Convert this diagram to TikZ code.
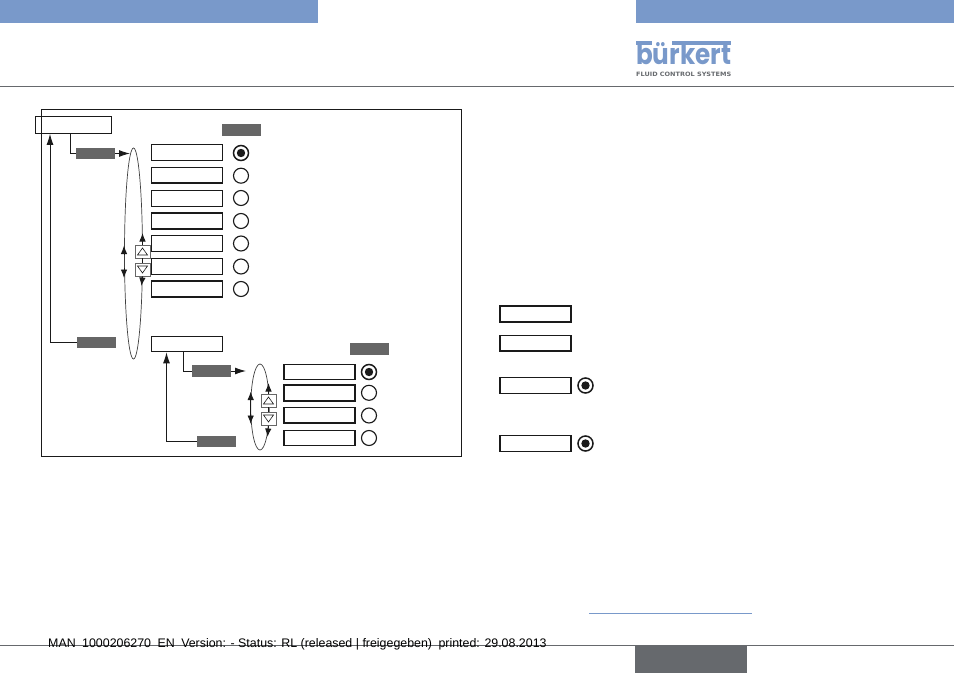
\documentclass[tikz,border=0pt]{standalone}
\usepackage{fontspec}
\setmainfont{Liberation Sans}
\newfontfamily\logofont{Poppins}
\newfontfamily\tagfont{DejaVu Sans}
\usetikzlibrary{shapes.geometric,arrows.meta}
\definecolor{brandblue}{HTML}{7999CA}
\definecolor{darklabel}{HTML}{666666}
\definecolor{rulegray}{HTML}{66696D}
\definecolor{inkblack}{HTML}{1A1A1A}
\tikzset{
  x=1pt,y=-1pt,
  lcd/.style={draw=inkblack,line width=1.25pt,minimum width=71pt,minimum height=15.5pt,inner sep=0pt},
  lcdthick/.style={lcd,line width=1.7pt},
  darktag/.style={fill=darklabel,minimum width=39pt,minimum height=11.5pt,inner sep=0pt},
  radio/.style={circle,draw=inkblack,line width=1.15pt,minimum size=15pt,inner sep=0pt},
  radioon/.style={radio,line width=1.5pt,path picture={\fill[inkblack] (path picture bounding box.center) circle (4.2pt);}},
  wire/.style={draw=inkblack,line width=0.9pt},
  arrowwire/.style={wire,-{Latex[length=11pt,width=7pt]}},
  tiponly/.style={wire,-{Latex[length=8.5pt,width=6.5pt]}},
  loopring/.style={ellipse,draw=black!75,line width=0.7pt,inner sep=0pt},
  keybox/.style={draw=black!60,fill=white,line width=0.9pt,minimum width=15pt,minimum height=13pt,inner sep=0pt},
  keytri/.style={draw=inkblack,line width=0.6pt},
}
\begin{document}
\begin{tikzpicture}
\useasboundingbox (0,0) rectangle (954,673);
% header and footer
\fill[brandblue] (0,0) rectangle (318,23);
\fill[brandblue] (636,0) rectangle (954,23);
\draw[rulegray,line width=0.9pt] (0,86.5) -- (954,86.5);
\draw[rulegray,line width=0.9pt] (0,645) -- (954,645);
\fill[rulegray] (635,645) rectangle (747,673);
\draw[brandblue,line width=0.8pt] (589,613.5) -- (752,613.5);
\node[anchor=base west,inner sep=0pt,font=\fontsize{12.4pt}{13pt}\selectfont] (foot) at (48,647) {MAN\hspace{3pt} 1000206270\hspace{3pt} EN\hspace{3pt} Version: - Status: RL (released | freigegeben)\hspace{3pt} printed: 29.08.2013};
% logo
\fill[brandblue] (636,41) rectangle (652,44.5);
\fill[brandblue] (672,41) rectangle (731,44.5);
\node[anchor=south west,inner sep=0pt,text=brandblue] (logo) at (636,65) {\resizebox{95pt}{22pt}{\logofont\bfseries bürkert}};
\node[anchor=south west,inner sep=0pt,text=rulegray] (logotag) at (636,76.5) {\resizebox{95pt}{4.4pt}{\tagfont\bfseries FLUID CONTROL SYSTEMS}};
% frame
\draw[inkblack,line width=0.9pt] (41.5,109.5) rectangle (461,456);
% top box
\node[lcd,minimum width=75.5pt,minimum height=16.5pt] (top) at (73.5,125) {};
\node[darktag] (tagA) at (241.5,130) {};
\node[darktag] (tagB) at (95.5,153.5) {};
% first column
\node[lcd] (a1) at (187,152.5) {};
\node[lcd] (a2) at (187,175.2) {};
\node[lcd] (a3) at (187,198.4) {};
\node[lcdthick] (a4) at (187,221) {};
\node[lcd] (a5) at (187,243.5) {};
\node[lcd] (a6) at (187,266.5) {};
\node[lcdthick] (a7) at (187,289) {};
\node[radioon] (ra1) at (241,153) {};
\node[radio] (ra2) at (241,175.7) {};
\node[radio] (ra3) at (241,198) {};
\node[radio] (ra4) at (241,221) {};
\node[radio] (ra5) at (241,243.5) {};
\node[radio] (ra6) at (241,266.5) {};
\node[radio] (ra7) at (241,289) {};
% first selector
\node[loopring,minimum width=18pt,minimum height=211pt] (ringA) at (133.5,253.5) {};
\node[keybox] (upA) at (142.5,251.5) {};
\node[keybox] (dnA) at (142.5,269.5) {};
\draw[keytri] (137.5,255) -- (147.5,255) -- (142.5,248) -- cycle;
\draw[keytri] (137.5,266) -- (147.5,266) -- (142.5,273) -- cycle;
\draw[wire] (upA) -- (dnA);
\coordinate (upAt) at (142.5,233);
\coordinate (dnAt) at (141.5,286);
\draw[tiponly] (upA.north) -- (upAt);
\draw[tiponly] (dnA.south) -- (dnAt);
\draw[tiponly] (124,254) -- (124,245.5);
\draw[tiponly] (124,268) -- (124,278);
\coordinate (ringAin) at (130,153.5);
\draw[wire] ([xshift=-3.5pt]top.south) |- (tagB.west);
\draw[arrowwire] (tagB.east) -- (ringAin);
% return to top
\node[darktag] (tagC) at (96.5,342.5) {};
\node[lcd] (sub) at (187,344) {};
\draw[arrowwire] (tagC.west) -| (top.south -| 50,0);
% second column
\node[darktag] (tagD) at (369.5,348.8) {};
\node[darktag] (tagE) at (211.5,371) {};
\node[darktag,minimum height=11pt] (tagF) at (216.5,441.3) {};
\node[lcd] (b1) at (319.5,372) {};
\node[lcdthick] (b2) at (319.5,393) {};
\node[lcdthick] (b3) at (319.5,415.3) {};
\node[lcd] (b4) at (319.5,438) {};
\node[radioon] (rb1) at (369,372) {};
\node[radio] (rb2) at (369,392.8) {};
\node[radio] (rb3) at (369,415.5) {};
\node[radio] (rb4) at (369,438) {};
% second selector
\node[loopring,minimum width=18.5pt,minimum height=86pt] (ringB) at (260,407) {};
\node[keybox] (upB) at (268.5,400.5) {};
\node[keybox] (dnB) at (268.5,418.8) {};
\draw[keytri] (263.5,404) -- (273.5,404) -- (268.5,397) -- cycle;
\draw[keytri] (263.5,415) -- (273.5,415) -- (268.5,422) -- cycle;
\draw[wire] (upB) -- (dnB);
\coordinate (upBt) at (268.5,383);
\coordinate (dnBt) at (267.5,437);
\draw[tiponly] (upB.north) -- (upBt);
\draw[tiponly] (dnB.south) -- (dnBt);
\draw[tiponly] (250.7,407) -- (250.7,391.5);
\draw[tiponly] (250.7,407) -- (250.7,424);
\coordinate (ringBin) at (246,371);
\draw[wire] ([xshift=-3.5pt]sub.south) |- (tagE.west);
\draw[arrowwire] (tagE.east) -- (ringBin);
\draw[arrowwire] (tagF.west) -| ([xshift=-20.5pt]sub.south);
% legend at right
\node[lcdthick] (k1) at (535.5,314) {};
\node[lcdthick] (k2) at (535.5,343.3) {};
\node[lcd] (k3) at (535.5,385.5) {};
\node[lcd] (k4) at (535.5,443.5) {};
\node[radioon] (rk3) at (585.5,385.5) {};
\node[radioon] (rk4) at (585.5,443.5) {};
\end{tikzpicture}
\end{document}
